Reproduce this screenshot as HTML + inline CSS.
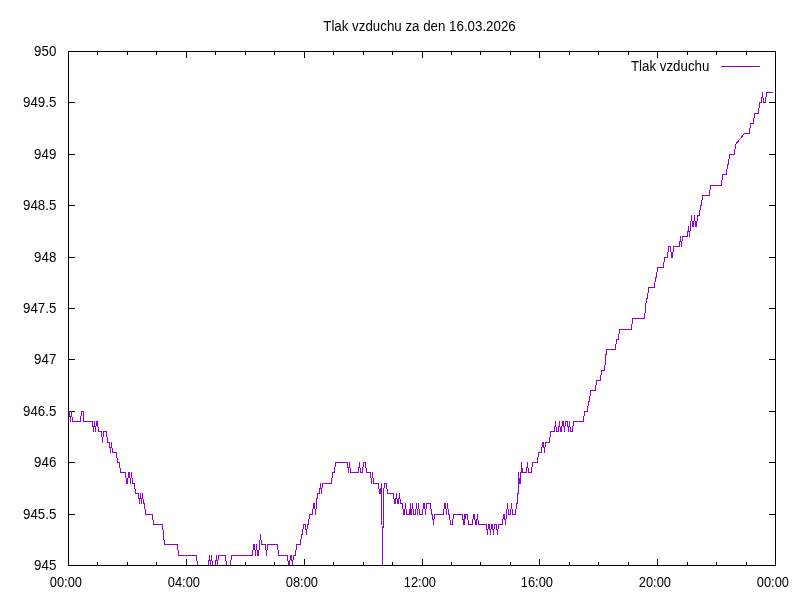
<!DOCTYPE html>
<html lang="cs"><head><meta charset="utf-8"><title>Tlak vzduchu</title>
<style>html,body{margin:0;padding:0;background:#fff;overflow:hidden}svg{display:block}text{font-family:"Liberation Sans",Arial,Helvetica,sans-serif;font-size:13.33px;fill:#000}</style></head>
<body>
<svg width="800" height="600" viewBox="0 0 800 600">
<rect width="800" height="600" fill="#fff"/>
<g stroke="#000" stroke-width="1" fill="none" shape-rendering="crispEdges">
<path d="M68 565.5h7M776 565.5h-7M68 514.5h7M776 514.5h-7M68 462.5h7M776 462.5h-7M68 411.5h7M776 411.5h-7M68 359.5h7M776 359.5h-7M68 308.5h7M776 308.5h-7M68 257.5h7M776 257.5h-7M68 205.5h7M776 205.5h-7M68 154.5h7M776 154.5h-7M68 102.5h7M776 102.5h-7M68 51.5h7M776 51.5h-7M68.5 566v-7M68.5 51v7M97.5 566v-4M97.5 51v4M127.5 566v-4M127.5 51v4M156.5 566v-4M156.5 51v4M186.5 566v-7M186.5 51v7M215.5 566v-4M215.5 51v4M245.5 566v-4M245.5 51v4M274.5 566v-4M274.5 51v4M304.5 566v-7M304.5 51v7M333.5 566v-4M333.5 51v4M363.5 566v-4M363.5 51v4M392.5 566v-4M392.5 51v4M422.5 566v-7M422.5 51v7M451.5 566v-4M451.5 51v4M480.5 566v-4M480.5 51v4M510.5 566v-4M510.5 51v4M539.5 566v-7M539.5 51v7M569.5 566v-4M569.5 51v4M598.5 566v-4M598.5 51v4M628.5 566v-4M628.5 51v4M657.5 566v-7M657.5 51v7M687.5 566v-4M687.5 51v4M716.5 566v-4M716.5 51v4M746.5 566v-4M746.5 51v4M775.5 566v-7M775.5 51v7"/>
</g>
<polyline points="68.5,411.5 69.5,411.5 70.5,421.5 71.5,411.5 72.5,421.5 80.5,421.5 81.5,411.5 83.5,411.5 83.5,421.5 92.5,421.5 93.5,431.5 94.5,421.5 95.5,431.5 96.5,421.5 97.5,421.5 98.5,431.5 101.5,431.5 102.5,442.5 103.5,431.5 106.5,431.5 107.5,442.5 109.5,442.5 110.5,452.5 111.5,442.5 112.5,452.5 116.5,452.5 117.5,462.5 119.5,462.5 120.5,472.5 125.5,472.5 126.5,483.5 127.5,483.5 128.5,472.5 129.5,472.5 130.5,483.5 131.5,472.5 132.5,483.5 134.5,483.5 135.5,493.5 138.5,493.5 139.5,503.5 140.5,493.5 141.5,503.5 142.5,493.5 143.5,503.5 144.5,503.5 145.5,514.5 152.5,514.5 153.5,524.5 162.5,524.5 164.5,544.5 177.5,544.5 178.5,555.5 196.5,555.5 197.5,565.5 208.5,565.5 209.5,555.5 210.5,565.5 211.5,555.5 212.5,565.5 215.5,565.5 216.5,555.5 217.5,565.5 218.5,555.5 225.5,555.5 226.5,565.5 230.5,565.5 231.5,555.5 252.5,555.5 253.5,544.5 254.5,544.5 255.5,555.5 256.5,544.5 257.5,555.5 258.5,555.5 260.5,534.5 261.5,544.5 265.5,544.5 266.5,555.5 267.5,544.5 277.5,544.5 278.5,555.5 287.5,555.5 288.5,565.5 289.5,565.5 290.5,555.5 291.5,555.5 292.5,565.5 293.5,555.5 295.5,555.5 296.5,544.5 300.5,544.5 301.5,534.5 302.5,534.5 303.5,524.5 305.5,524.5 306.5,534.5 307.5,524.5 308.5,524.5 309.5,514.5 312.5,514.5 313.5,503.5 314.5,503.5 315.5,514.5 317.5,493.5 319.5,493.5 320.5,483.5 321.5,493.5 322.5,483.5 331.5,483.5 332.5,472.5 334.5,472.5 335.5,462.5 347.5,462.5 348.5,472.5 349.5,462.5 350.5,472.5 358.5,472.5 359.5,462.5 360.5,472.5 362.5,472.5 363.5,462.5 365.5,462.5 366.5,472.5 370.5,472.5 371.5,483.5 372.5,472.5 373.5,483.5 378.5,483.5 379.5,493.5 380.5,493.5 381.5,483.5 382.5,565.5 383.5,493.5 384.5,483.5 386.5,483.5 387.5,493.5 393.5,493.5 394.5,503.5 395.5,503.5 396.5,493.5 397.5,503.5 398.5,503.5 399.5,493.5 400.5,503.5 402.5,503.5 403.5,514.5 404.5,514.5 405.5,503.5 406.5,514.5 409.5,514.5 410.5,503.5 410.5,514.5 411.5,514.5 412.5,503.5 413.5,514.5 415.5,514.5 416.5,503.5 417.5,514.5 418.5,503.5 419.5,514.5 422.5,514.5 423.5,503.5 424.5,503.5 425.5,514.5 426.5,503.5 430.5,503.5 431.5,514.5 432.5,514.5 433.5,524.5 434.5,514.5 443.5,514.5 444.5,503.5 445.5,503.5 446.5,514.5 447.5,503.5 448.5,514.5 449.5,514.5 450.5,524.5 452.5,524.5 453.5,514.5 462.5,514.5 463.5,524.5 464.5,514.5 464.5,524.5 465.5,514.5 467.5,514.5 468.5,524.5 472.5,524.5 473.5,514.5 474.5,514.5 475.5,524.5 476.5,524.5 477.5,514.5 478.5,524.5 486.5,524.5 487.5,534.5 488.5,524.5 489.5,524.5 490.5,534.5 491.5,524.5 492.5,524.5 493.5,534.5 494.5,524.5 496.5,524.5 497.5,534.5 498.5,524.5 502.5,524.5 503.5,514.5 504.5,514.5 505.5,524.5 507.5,503.5 508.5,514.5 510.5,514.5 511.5,503.5 512.5,514.5 515.5,514.5 516.5,503.5 517.5,503.5 517.5,493.5 518.5,493.5 518.5,472.5 519.5,483.5 520.5,483.5 520.5,472.5 521.5,472.5 521.5,462.5 522.5,472.5 526.5,472.5 527.5,462.5 528.5,472.5 531.5,472.5 532.5,462.5 537.5,462.5 538.5,452.5 541.5,452.5 542.5,442.5 543.5,442.5 544.5,452.5 545.5,442.5 549.5,442.5 550.5,431.5 554.5,431.5 555.5,421.5 556.5,431.5 558.5,431.5 559.5,421.5 560.5,431.5 561.5,431.5 562.5,421.5 563.5,421.5 564.5,431.5 565.5,421.5 567.5,421.5 568.5,431.5 569.5,421.5 570.5,431.5 572.5,431.5 573.5,421.5 583.5,421.5 584.5,411.5 587.5,411.5 588.5,401.5 589.5,401.5 590.5,390.5 595.5,390.5 596.5,380.5 600.5,380.5 601.5,370.5 604.5,370.5 606.5,349.5 615.5,349.5 616.5,339.5 618.5,339.5 619.5,329.5 631.5,329.5 632.5,318.5 644.5,318.5 646.5,298.5 647.5,298.5 648.5,287.5 654.5,287.5 655.5,277.5 656.5,277.5 657.5,267.5 663.5,267.5 664.5,257.5 667.5,257.5 668.5,246.5 670.5,246.5 671.5,257.5 672.5,257.5 673.5,246.5 679.5,246.5 680.5,236.5 681.5,246.5 682.5,236.5 687.5,236.5 688.5,226.5 689.5,236.5 691.5,215.5 692.5,226.5 693.5,226.5 694.5,215.5 695.5,226.5 696.5,226.5 697.5,215.5 699.5,215.5 700.5,205.5 701.5,205.5 702.5,195.5 709.5,195.5 710.5,185.5 721.5,185.5 722.5,174.5 726.5,174.5 727.5,164.5 728.5,164.5 729.5,154.5 734.5,154.5 735.5,144.5 744.5,133.5 749.5,133.5 750.5,123.5 753.5,123.5 754.5,113.5 758.5,113.5 759.5,102.5 761.5,102.5 762.5,92.5 763.5,102.5 765.5,102.5 766.5,92.5 772.5,92.5" fill="none" stroke="#9400d3" stroke-width="1" stroke-linejoin="miter" shape-rendering="crispEdges"/>
<path d="M721 66.5h39" stroke="#9400d3" stroke-width="1" shape-rendering="crispEdges"/>
<rect x="68.5" y="51.5" width="707" height="514" fill="none" stroke="#000" stroke-width="1" shape-rendering="crispEdges"/>
<text transform="translate(56.3 570.2) scale(1 1.06)" text-anchor="end">945</text>
<text transform="translate(56.3 519.2) scale(1 1.06)" text-anchor="end">945.5</text>
<text transform="translate(56.3 467.2) scale(1 1.06)" text-anchor="end">946</text>
<text transform="translate(56.3 416.2) scale(1 1.06)" text-anchor="end">946.5</text>
<text transform="translate(56.3 364.2) scale(1 1.06)" text-anchor="end">947</text>
<text transform="translate(56.3 313.2) scale(1 1.06)" text-anchor="end">947.5</text>
<text transform="translate(56.3 262.2) scale(1 1.06)" text-anchor="end">948</text>
<text transform="translate(56.3 210.2) scale(1 1.06)" text-anchor="end">948.5</text>
<text transform="translate(56.3 159.2) scale(1 1.06)" text-anchor="end">949</text>
<text transform="translate(56.3 107.2) scale(1 1.06)" text-anchor="end">949.5</text>
<text transform="translate(56.3 56.2) scale(1 1.06)" text-anchor="end">950</text>
<text transform="translate(65.9 587.2) scale(0.965 1.06)" text-anchor="middle">00:00</text>
<text transform="translate(183.9 587.2) scale(0.965 1.06)" text-anchor="middle">04:00</text>
<text transform="translate(301.9 587.2) scale(0.965 1.06)" text-anchor="middle">08:00</text>
<text transform="translate(419.9 587.2) scale(0.965 1.06)" text-anchor="middle">12:00</text>
<text transform="translate(536.9 587.2) scale(0.965 1.06)" text-anchor="middle">16:00</text>
<text transform="translate(654.9 587.2) scale(0.965 1.06)" text-anchor="middle">20:00</text>
<text transform="translate(772.9 587.2) scale(0.965 1.06)" text-anchor="middle">00:00</text>
<text transform="translate(419.5 30.7) scale(1 1.06)" text-anchor="middle">Tlak vzduchu za den 16.03.2026</text>
<text transform="translate(709.4 71.2) scale(1 1.06)" text-anchor="end">Tlak vzduchu</text>
</svg>
</body></html>
